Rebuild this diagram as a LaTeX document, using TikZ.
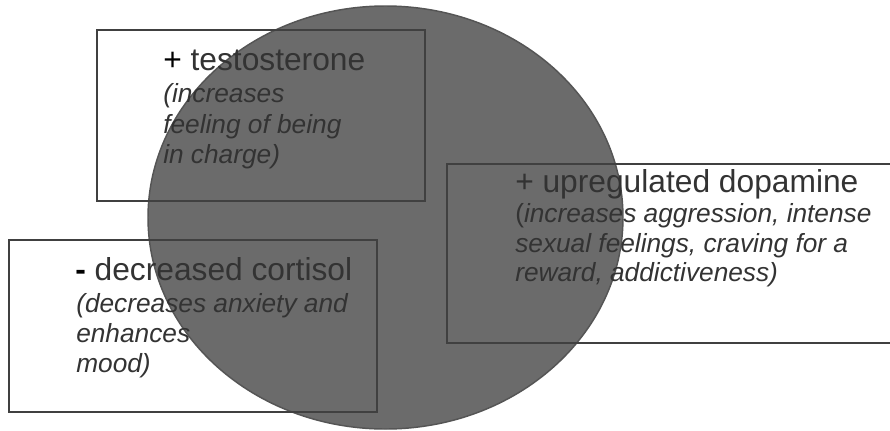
\documentclass[tikz,border=0pt]{standalone}
\usepackage{fontspec}
\setmainfont{Liberation Sans}
\definecolor{ellfill}{HTML}{6B6B6B}
\definecolor{elldraw}{HTML}{555555}
\definecolor{boxline}{HTML}{404040}
\definecolor{txt}{HTML}{333333}
\begin{document}
\begin{tikzpicture}[x=0.75pt,y=-0.75pt,
  box/.style={draw=boxline,line width=1.1pt},
  head/.style={anchor=base west,inner sep=0pt,text=txt,font=\fontsize{23.8pt}{27pt}\selectfont},
  desc/.style={anchor=base west,inner sep=0pt,text=txt,font=\fontsize{19.7pt}{23pt}\selectfont\itshape}]
\clip (0,0) rectangle (890,430);
\useasboundingbox (0,0) rectangle (890,430);
% ellipse
\draw[fill=ellfill,draw=elldraw,line width=1.1pt] (385.5,217.5) ellipse [x radius=237.5, y radius=211.5];
% boxes
\draw[box] (97,30) rectangle (425,201);
\draw[box] (447,164) rectangle (900,343);
\draw[box] (9,240) rectangle (377,412);
% top-left texts
\node[head] (t1) at (163,70) {\textcolor{black}{+} testosterone};
\node[desc] (t2) at (163,102) {(increases};
\node[desc] (t3) at (163,133) {feeling of being};
\node[desc] (t4) at (163,163) {in charge)};
% right texts
\node[head] (d1) at (515,192) {+ upregulated dopamine};
\node[desc] (d2) at (515,222) {\upshape(\itshape increases aggression, intense};
\node[desc] (d3) at (515,252) {sexual feelings, craving for a};
\node[desc] (d4) at (515,281) {reward, addictiveness)};
% bottom-left texts
\node[head] (c1) at (75,280) {\textcolor{black}{\textbf{-}} decreased cortisol};
\node[desc] (c2) at (76,312) {(decreases anxiety and};
\node[desc] (c3) at (76,342) {enhances};
\node[desc] (c4) at (76,372) {mood)};
\end{tikzpicture}
\end{document}
